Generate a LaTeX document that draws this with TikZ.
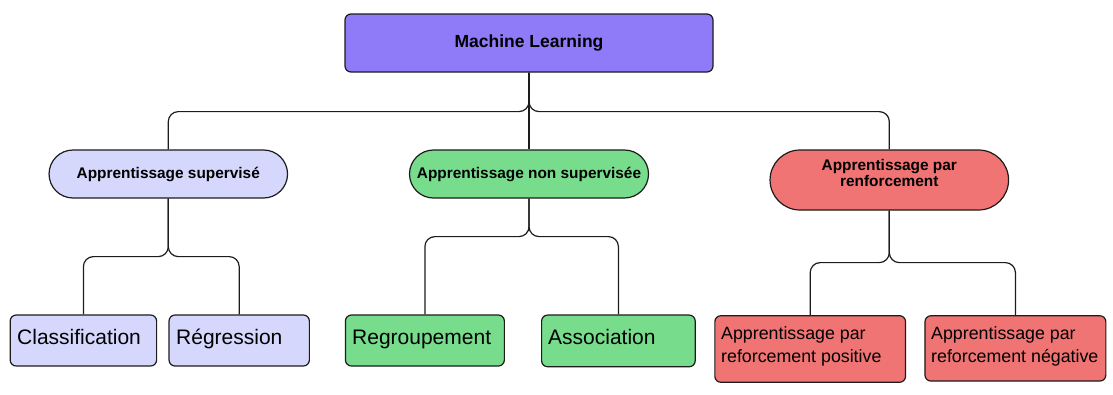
\documentclass[tikz,border=0pt]{standalone}
\usepackage{fontspec}
\setmainfont{Liberation Sans}
\definecolor{edge}{HTML}{1C1C1C}
\definecolor{mlpurple}{HTML}{8F7BF8}
\definecolor{suplav}{HTML}{D5D8FC}
\definecolor{nsgreen}{HTML}{77DD8C}
\definecolor{rfred}{HTML}{F07473}
\begin{document}
\begin{tikzpicture}[x=1pt,y=-1pt,
  box/.style={draw=edge, line width=1.2pt, rounded corners=6pt, inner sep=0pt},
  pill/.style={box, rounded corners=#1},
  head/.style={font=\bfseries\fontsize{15.4}{16.7}\selectfont, align=center, inner sep=0pt},
  leaftext/.style={anchor=base west, inner sep=0pt, font=\fontsize{21}{25}\selectfont},
  smalltext/.style={anchor=base west, inner sep=0pt, align=left, font=\fontsize{17.8}{23.3}\selectfont},
  conn/.style={draw=edge, line width=1.2pt, rounded corners=10pt},
]
\useasboundingbox (0,0) rectangle (1113,394);

% root
\node[box, fill=mlpurple, minimum width=368, minimum height=58] (ml) at (529,43)
  {\bfseries\fontsize{17.5}{20}\selectfont Machine Learning};

% three families
\node[pill=24pt, fill=suplav, minimum width=238.5, minimum height=48] (sup) at (168.3,174) {};
\node[head] (tsup) at (sup.center) {Apprentissage supervisé};
\node[pill=24pt, fill=nsgreen, minimum width=239, minimum height=48] (nsup) at (529,174) {};
\node[head] (tnsup) at (nsup.center) {Apprentissage non supervisée};
\node[pill=30pt, fill=rfred, minimum width=238.5, minimum height=60] (renf) at (889.3,180) {};
\node[head] (trenf) at (889.3,173) {Apprentissage par\\renforcement};

% leaves
\node[box, fill=suplav, minimum width=146.4, minimum height=51] (cls) at (83.4,340.5) {};
\node[leaftext] (tcls) at (17,344) {Classification};
\node[box, fill=suplav, minimum width=140.3, minimum height=51] (reg) at (239.2,340.5) {};
\node[leaftext] (treg) at (176,344) {Régression};
\node[box, fill=nsgreen, minimum width=158.9, minimum height=51] (grp) at (424.9,340.5) {};
\node[leaftext] (tgrp) at (352,344) {Regroupement};
\node[box, fill=nsgreen, minimum width=153.6, minimum height=51.7] (asc) at (618.4,340.9) {};
\node[leaftext] (tasc) at (548,344) {Association};
\node[box, fill=rfred, minimum width=190.7, minimum height=66.6] (pos) at (810.2,349) {};
\node[smalltext] (tpos) at (721,362.3) {Apprentissage par\\reforcement positive};
\node[box, fill=rfred, minimum width=180.9, minimum height=65.3] (neg) at (1015.4,348.4) {};
\node[smalltext] (tneg) at (931,362.3) {Apprentissage par\\reforcement négative};

% connectors
\draw[conn] (ml.south) -- ++(0,39) -| (sup.north);
\draw[conn] (ml.south) -- (nsup.north);
\draw[conn] (ml.south) -- ++(0,39) -| (renf.north);

\draw[conn] (sup.south) -- ++(0,58) -| (cls.north);
\draw[conn] (sup.south) -- ++(0,58) -| (reg.north);

\draw[conn] (nsup.south) -- ++(0,38) -| (grp.north);
\draw[conn] (nsup.south) -- ++(0,38) -| (asc.north);

\draw[conn] (renf.south) -- ++(0,52) -| (pos.north);
\draw[conn] (renf.south) -- ++(0,52) -| (neg.north);
\end{tikzpicture}
\end{document}
